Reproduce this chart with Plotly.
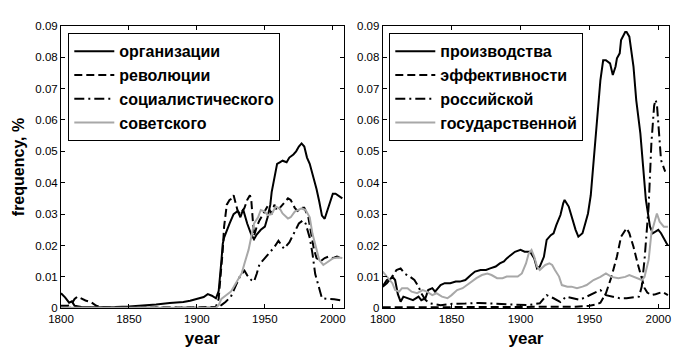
import plotly.graph_objects as go

# ---------------- data: left panel ----------------
org_years = [1800, 1803, 1806, 1808, 1810, 1815, 1820, 1830, 1840, 1850, 1860, 1870, 1880, 1890, 1895,
             1900, 1905, 1908, 1911, 1914, 1916, 1918, 1919, 1920, 1922, 1924, 1927, 1930, 1932, 1934,
             1937, 1940, 1942, 1944, 1947, 1950, 1952, 1954, 1955, 1957, 1959, 1961, 1963, 1966, 1968,
             1971, 1973, 1975, 1977, 1979, 1981, 1983, 1985, 1988, 1990, 1992, 1994, 1996, 1998, 2000,
             2002, 2004, 2007]
org_vals = [0.0048, 0.0035, 0.0018, 0.0022, 0.0008, 0.0004, 0.0003, 0.0003, 0.0004, 0.0006, 0.0008, 0.0012,
            0.0017, 0.0020, 0.0024, 0.0030, 0.0036, 0.0045, 0.0040, 0.0032, 0.0055, 0.0150, 0.0205, 0.0225,
            0.0250, 0.0270, 0.0300, 0.0310, 0.0290, 0.0315, 0.0270, 0.0235, 0.0220, 0.0235, 0.0250, 0.0260,
            0.0290, 0.0330, 0.0370, 0.0420, 0.0460, 0.0465, 0.0470, 0.0465, 0.0480, 0.0490, 0.0500, 0.0515,
            0.0525, 0.0515, 0.0480, 0.0460, 0.0430, 0.0380, 0.0340, 0.0295, 0.0285, 0.0310, 0.0340, 0.0365,
            0.0365, 0.0360, 0.0350]

rev_years = [1800, 1805, 1808, 1810, 1812, 1815, 1818, 1822, 1826, 1830, 1850, 1900, 1910, 1914, 1916,
             1918, 1919, 1920, 1922, 1924, 1926, 1927, 1929, 1930, 1932, 1935, 1937, 1939, 1940, 1941,
             1942, 1944, 1946, 1950, 1952, 1955, 1957, 1959, 1963, 1967, 1969, 1972, 1974, 1977, 1979,
             1982, 1984, 1986, 1988, 1991, 1994, 1997, 2000, 2003, 2007]
rev_vals = [0.0008, 0.0008, 0.0015, 0.0030, 0.0037, 0.0030, 0.0025, 0.0020, 0.0008, 0.0003, 0.0002, 0.0003,
            0.0005, 0.0005, 0.0030, 0.0120, 0.0185, 0.0260, 0.0330, 0.0345, 0.0350, 0.0360, 0.0320, 0.0310,
            0.0300, 0.0320, 0.0345, 0.0360, 0.0345, 0.0290, 0.0230, 0.0260, 0.0280, 0.0310, 0.0325, 0.0300,
            0.0330, 0.0310, 0.0330, 0.0350, 0.0345, 0.0320, 0.0310, 0.0320, 0.0320, 0.0290, 0.0240, 0.0190,
            0.0160, 0.0150, 0.0160, 0.0165, 0.0160, 0.0165, 0.0160]

soc_years = [1800, 1850, 1900, 1915, 1918, 1921, 1925, 1929, 1932, 1935, 1937, 1940, 1942, 1944, 1946,
             1950, 1953, 1957, 1960, 1964, 1968, 1972, 1975, 1978, 1980, 1983, 1985, 1987, 1990, 1992,
             1996, 2001, 2007]
soc_vals = [0.0002, 0.0002, 0.0002, 0.0002, 0.0010, 0.0020, 0.0037, 0.0075, 0.0105, 0.0120, 0.0105, 0.0090,
            0.0085, 0.0110, 0.0140, 0.0160, 0.0175, 0.0195, 0.0215, 0.0190, 0.0210, 0.0245, 0.0270, 0.0280,
            0.0270, 0.0225, 0.0175, 0.0110, 0.0060, 0.0032, 0.0030, 0.0029, 0.0024]

sov_years = [1800, 1850, 1900, 1914, 1916, 1918, 1921, 1923, 1925, 1928, 1930, 1933, 1935, 1938, 1940,
             1942, 1945, 1947, 1950, 1952, 1955, 1958, 1961, 1963, 1967, 1969, 1972, 1977, 1980, 1983,
             1985, 1988, 1990, 1993, 1996, 2000, 2004, 2007]
sov_vals = [0.0002, 0.0002, 0.0002, 0.0002, 0.0010, 0.0030, 0.0040, 0.0047, 0.0053, 0.0075, 0.0090, 0.0112,
            0.0143, 0.0186, 0.0228, 0.0270, 0.0290, 0.0313, 0.0308, 0.0297, 0.0300, 0.0324, 0.0318, 0.0302,
            0.0286, 0.0290, 0.0308, 0.0318, 0.0313, 0.0290, 0.0238, 0.0185, 0.0154, 0.0138, 0.0148, 0.0159,
            0.0162, 0.0160]

# ---------------- data: right panel ----------------
prod_years = [1800, 1803, 1807, 1809, 1811, 1813, 1815, 1819, 1822, 1826, 1828, 1831, 1833, 1836, 1838,
              1842, 1845, 1849, 1853, 1856, 1860, 1864, 1867, 1871, 1875, 1878, 1882, 1885, 1888, 1890,
              1893, 1896, 1900, 1903, 1907, 1910, 1912, 1914, 1917, 1919, 1922, 1924, 1926, 1929, 1931,
              1932, 1935, 1937, 1940, 1942, 1945, 1947, 1949, 1951, 1953, 1955, 1958, 1960, 1962, 1965,
              1967, 1969, 1970, 1972, 1973, 1976, 1977, 1979, 1982, 1984, 1987, 1989, 1991, 1994, 1996,
              2000, 2002, 2006, 2007]
prod_vals = [0.0069, 0.0080, 0.0101, 0.0090, 0.0045, 0.0021, 0.0037, 0.0032, 0.0026, 0.0037, 0.0026, 0.0032,
             0.0058, 0.0064, 0.0053, 0.0074, 0.0080, 0.0080, 0.0085, 0.0085, 0.0090, 0.0106, 0.0117, 0.0122,
             0.0122, 0.0127, 0.0133, 0.0143, 0.0149, 0.0159, 0.0170, 0.0180, 0.0186, 0.0180, 0.0180, 0.0159,
             0.0127, 0.0133, 0.0164, 0.0218, 0.0233, 0.0239, 0.0265, 0.0297, 0.0334, 0.0345, 0.0324, 0.0292,
             0.0250, 0.0228, 0.0239, 0.0270, 0.0302, 0.0360, 0.0460, 0.0580, 0.0727, 0.0790, 0.0790, 0.0780,
             0.0743, 0.0770, 0.0796, 0.0812, 0.0854, 0.0880, 0.0880, 0.0865, 0.0770, 0.0663, 0.0557, 0.0451,
             0.0345, 0.0260, 0.0239, 0.0250, 0.0239, 0.0207, 0.0200]

eff_years = [1800, 1850, 1900, 1940, 1950, 1955, 1958, 1962, 1966, 1970, 1973, 1977, 1979, 1982, 1985,
             1988, 1990, 1992, 1995, 1998, 2000, 2003, 2007]
eff_vals = [0.0003, 0.0003, 0.0004, 0.0005, 0.0008, 0.0012, 0.0018, 0.0048, 0.0100, 0.0165, 0.0228, 0.0255,
            0.0239, 0.0196, 0.0143, 0.0100, 0.0065, 0.0050, 0.0042, 0.0045, 0.0048, 0.0052, 0.0042]

ros_years = [1800, 1803, 1806, 1810, 1813, 1816, 1820, 1823, 1826, 1828, 1831, 1834, 1842, 1849, 1860,
             1870, 1880, 1890, 1895, 1905, 1914, 1919, 1924, 1929, 1933, 1938, 1943, 1948, 1953, 1958,
             1962, 1967, 1972, 1977, 1982, 1986, 1988, 1990, 1993, 1995, 1997, 1998, 1999, 2001, 2002,
             2005]
ros_vals = [0.0070, 0.0090, 0.0095, 0.0122, 0.0127, 0.0110, 0.0100, 0.0090, 0.0069, 0.0048, 0.0027, 0.0016,
            0.0010, 0.0014, 0.0015, 0.0017, 0.0015, 0.0013, 0.0010, 0.0010, 0.0016, 0.0042, 0.0032, 0.0020,
            0.0037, 0.0032, 0.0027, 0.0037, 0.0048, 0.0058, 0.0042, 0.0037, 0.0032, 0.0032, 0.0034, 0.0037,
            0.0069, 0.0154, 0.0324, 0.0526, 0.0645, 0.0664, 0.0650, 0.0536, 0.0472, 0.0435]

gos_years = [1800, 1803, 1807, 1809, 1812, 1814, 1818, 1821, 1825, 1829, 1832, 1836, 1839, 1843, 1847,
             1850, 1854, 1858, 1861, 1865, 1868, 1872, 1876, 1879, 1883, 1887, 1890, 1894, 1898, 1901,
             1904, 1906, 1908, 1910, 1912, 1914, 1918, 1921, 1923, 1925, 1928, 1930, 1934, 1937, 1941,
             1945, 1948, 1953, 1958, 1962, 1966, 1971, 1976, 1979, 1984, 1988, 1990, 1993, 1995, 1998,
             1999, 2001, 2004, 2007]
gos_vals = [0.0117, 0.0100, 0.0080, 0.0058, 0.0053, 0.0064, 0.0064, 0.0053, 0.0048, 0.0058, 0.0053, 0.0042,
            0.0048, 0.0037, 0.0032, 0.0042, 0.0058, 0.0064, 0.0074, 0.0085, 0.0096, 0.0106, 0.0111, 0.0106,
            0.0096, 0.0096, 0.0101, 0.0101, 0.0101, 0.0111, 0.0143, 0.0175, 0.0186, 0.0164, 0.0133, 0.0122,
            0.0138, 0.0143, 0.0138, 0.0122, 0.0101, 0.0074, 0.0069, 0.0069, 0.0064, 0.0069, 0.0074, 0.0090,
            0.0100, 0.0111, 0.0100, 0.0096, 0.0100, 0.0106, 0.0096, 0.0090, 0.0100, 0.0154, 0.0239, 0.0292,
            0.0302, 0.0276, 0.0260, 0.0260]

left_names = ["организации", "революции", "социалистического", "советского"]
right_names = ["производства", "эффективности", "российской", "государственной"]

y_tickvals = [0, 0.01, 0.02, 0.03, 0.04, 0.05, 0.06, 0.07, 0.08, 0.09]
y_ticktext = ["0", "0.01", "0.02", "0.03", "0.04", "0.05", "0.06", "0.07", "0.08", "0.09"]
x_tickvals = [1800, 1850, 1900, 1950, 2000]

BLACK = "#000000"
GRAY = "#a8a8a8"
styles = [(BLACK, "solid"), (BLACK, "8px,4px"), (BLACK, "10px,4px,2px,4px"), (GRAY, "solid")]

fig = go.Figure()

left_data = [(org_years, org_vals), (rev_years, rev_vals), (soc_years, soc_vals), (sov_years, sov_vals)]
right_data = [(prod_years, prod_vals), (eff_years, eff_vals), (ros_years, ros_vals), (gos_years, gos_vals)]

for i, ((xs, ys), name) in enumerate(zip(left_data, left_names)):
    c, d = styles[i]
    fig.add_trace(go.Scatter(x=xs, y=ys, mode="lines", name=name,
                             line=dict(color=c, width=2, dash=d),
                             xaxis="x", yaxis="y", legend="legend", legendgroup="L%d" % i))
for i, ((xs, ys), name) in enumerate(zip(right_data, right_names)):
    c, d = styles[i]
    fig.add_trace(go.Scatter(x=xs, y=ys, mode="lines", name=name,
                             line=dict(color=c, width=2, dash=d),
                             xaxis="x2", yaxis="y2", legend="legend2", legendgroup="R%d" % i))

W, H = 685, 352
tickfont = dict(family="Liberation Sans Narrow, Arial Narrow, Liberation Sans, Arial", size=11.5, color="black")
titlefont = dict(family="Liberation Sans, Arial", size=17, color="black", weight="bold")

def xaxis(domain, anchor):
    return dict(domain=domain, anchor=anchor, range=[1800, 2008], tickvals=x_tickvals,
                ticks="inside", ticklen=4, tickcolor="black", showline=True, linecolor="black",
                linewidth=1, mirror="ticks", showgrid=False, zeroline=False, tickfont=tickfont,
                title=dict(text="year", font=titlefont, standoff=8), automargin=False)

def yaxis(domain, anchor, title=None):
    d = dict(domain=domain, anchor=anchor, range=[0, 0.09], tickvals=y_tickvals, ticktext=y_ticktext,
             ticks="inside", ticklen=4, tickcolor="black", showline=True, linecolor="black",
             linewidth=1, mirror="ticks", showgrid=False, zeroline=False, tickfont=tickfont,
             automargin=False)
    if title:
        d["title"] = dict(text=title, font=dict(family="Liberation Sans, Arial", size=16,
                                                 color="black", weight="bold"), standoff=6)
    return d

ydom = [43.7 / H, 326.3 / H]
legfont = dict(family="Liberation Sans, Arial", size=16, color="black", weight="bold")

fig.update_layout(
    width=W, height=H,
    margin=dict(l=0, r=0, t=0, b=0),
    paper_bgcolor="white", plot_bgcolor="white",
    showlegend=True,
    xaxis=xaxis([61 / W, 343.7 / W], "y"),
    yaxis=yaxis(ydom, "x", "frequency, %"),
    xaxis2=xaxis([382.7 / W, 669.3 / W], "y2"),
    yaxis2=yaxis(ydom, "x2"),
    legend=dict(x=68.3 / W, y=(H - 33.3) / H, xanchor="left", yanchor="top",
                bordercolor="black", borderwidth=1, bgcolor="white", font=legfont,
                itemwidth=40, tracegroupgap=0, traceorder="normal"),
    legend2=dict(x=389.3 / W, y=(H - 33.3) / H, xanchor="left", yanchor="top",
                 bordercolor="black", borderwidth=1, bgcolor="white", font=legfont,
                 itemwidth=40, tracegroupgap=0, traceorder="normal"),
)

fig.write_html("out.html")
